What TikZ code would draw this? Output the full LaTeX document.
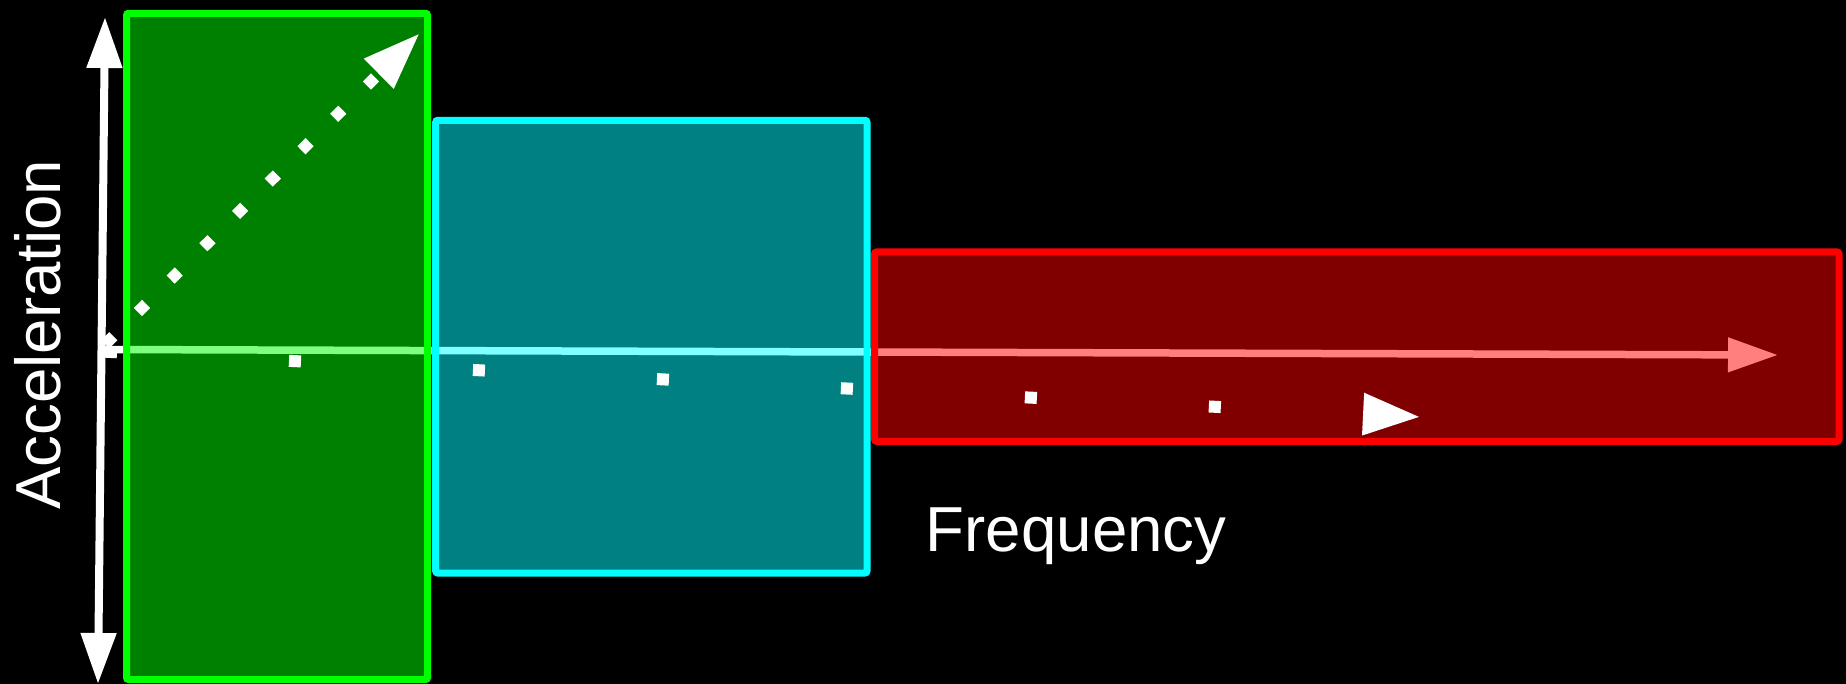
\documentclass[tikz,border=0pt]{standalone}
\usepackage{fontspec}
\setmainfont{Liberation Sans}
\usetikzlibrary{arrows.meta}
\definecolor{bgreen}{RGB}{0,255,0}
\definecolor{bcyan}{RGB}{0,255,255}
\definecolor{bred}{RGB}{255,0,0}
\begin{document}
\begin{tikzpicture}[x=0.5pt,y=-0.5pt,
  box/.style={rectangle, inner sep=0pt, outer sep=0pt, line width=3.5pt, rounded corners=1pt, fill opacity=0.5, draw opacity=1},
  axisline/.style={white, line width=3.75pt},
  dotsline/.style={white, line cap=butt},
  lbl/.style={white, inner sep=0pt, font=\fontsize{31.8pt}{38pt}\selectfont}]
\fill[black] (0,0) rectangle (1846,684);
\useasboundingbox (0,0) rectangle (1846,684);
% coordinates
\coordinate (O) at (106,349.5);
\coordinate (fend) at (1778,355);
\coordinate (ybot) at (98,684);
\coordinate (ytop) at (105,17);
\coordinate (hs) at (105,351.7);
\coordinate (he) at (1421,417);
\coordinate (ds) at (105.2,344.3);
\coordinate (de) at (420,33);
% frequency axis (under the boxes)
\draw[axisline, -{Triangle[length=25pt,width=16.5pt]}] (O) -- (fend);
% boxes
\node[box, draw=bgreen, fill=bgreen, minimum width=150.5pt, minimum height=333.1pt] (low) at (277,346.4) {};
\node[box, draw=bcyan, fill=bcyan, minimum width=215.65pt, minimum height=226.35pt] (mid) at (651.35,346.65) {};
\node[box, draw=bred, fill=bred, minimum width=482.25pt, minimum height=94.65pt] (high) at (1356.75,346.65) {};
% acceleration axis
\draw[axisline, line width=4pt, {Triangle[length=25.5pt,width=17pt]}-{Triangle[length=25.5pt,width=17pt]}] (ybot) -- (ytop);
% dotted arrows
\draw[dotsline, line width=6pt, dash pattern=on 6pt off 86.1pt, -{Triangle[length=29pt,width=19.5pt]}] (hs) -- (he);
\draw[dotsline, line width=5.75pt, dash pattern=on 5.75pt off 17.25pt, -{Triangle[length=29pt,width=19.5pt]}] (ds) -- (de);
% labels
\node[lbl, rotate=90, anchor=base west] (acc) at (60,510) {Acceleration};
\node[lbl, anchor=base west] (freq) at (925.5,551.7) {Frequency};
\end{tikzpicture}
\end{document}
